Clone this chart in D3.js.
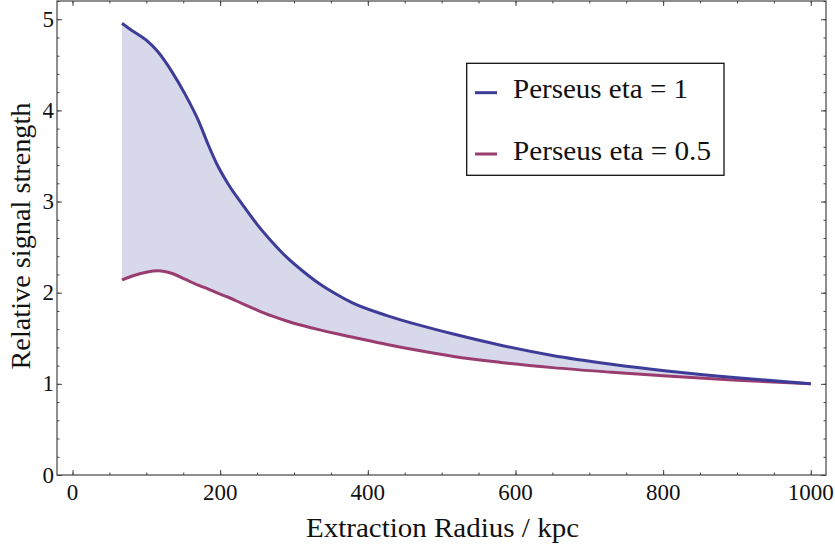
<!DOCTYPE html>
<html>
<head>
<meta charset="utf-8">
<script src="https://cdn.jsdelivr.net/npm/d3@7"></script>
<style>
  body { margin: 0; background: #fff; }
  svg text { font-family: "Liberation Serif", "DejaVu Serif", serif; fill: #111; }
</style>
</head>
<body>
<script>
// extraction radius in kpc
var radius = [67, 80, 100, 116, 135, 153, 171, 184, 195, 211, 230, 250, 270, 290, 313, 335, 358, 380, 426, 471, 516, 580, 650, 730, 805, 900, 1000];
// Perseus eta = 1
var eta1 = [4.955, 4.88, 4.77, 4.64, 4.42, 4.17, 3.88, 3.62, 3.42, 3.19, 2.97, 2.75, 2.56, 2.39, 2.23, 2.095, 1.98, 1.885, 1.749, 1.641, 1.546, 1.424, 1.312, 1.216, 1.142, 1.066, 1.00];
// Perseus eta = 0.5
var eta05 = [2.14, 2.18, 2.225, 2.24, 2.21, 2.145, 2.08, 2.04, 2.00, 1.95, 1.88, 1.81, 1.745, 1.69, 1.637, 1.592, 1.549, 1.511, 1.432, 1.362, 1.30, 1.235, 1.178, 1.127, 1.085, 1.04, 1.00];

var seriesNames = ["Perseus eta = 1", "Perseus eta = 0.5"];
var seriesColors = ["#3d3d99", "#993d70"];
var xTicks = [0, 200, 400, 600, 800, 1000];
var yTicks = [0, 1, 2, 3, 4, 5];

var width = 835, height = 549;
var frameL = 57, frameR = 826, frameT = 1, frameB = 475;

var svg = d3.select("body").append("svg")
    .attr("width", width)
    .attr("height", height);

var x = d3.scaleLinear().domain([-21, 1020.6]).range([frameL, frameR]);
var y = d3.scaleLinear().domain([0, 5.2]).range([frameB, frameT]);

var data = radius.map(function(r, i) { return {r: r, a: eta1[i], b: eta05[i]}; });

// band between the two curves
var area = d3.area()
    .curve(d3.curveMonotoneX)
    .x(function(d) { return x(d.r); })
    .y0(function(d) { return y(d.b); })
    .y1(function(d) { return y(d.a); });

svg.append("path")
    .datum(data)
    .attr("d", area)
    .attr("fill", "#d8d8eb");

var lineA = d3.line().curve(d3.curveMonotoneX)
    .x(function(d) { return x(d.r); })
    .y(function(d) { return y(d.a); });
var lineB = d3.line().curve(d3.curveMonotoneX)
    .x(function(d) { return x(d.r); })
    .y(function(d) { return y(d.b); });

svg.append("path").datum(data).attr("d", lineB)
    .attr("fill", "none").attr("stroke", seriesColors[1]).attr("stroke-width", 3);
svg.append("path").datum(data).attr("d", lineA)
    .attr("fill", "none").attr("stroke", seriesColors[0]).attr("stroke-width", 3);

// frame with inward ticks on all sides
var xMinor = d3.range(0, 1001, 50);
var yMinor = d3.range(0, 5.21, 0.2);

function axisSet(axis, ticks, size, pos) {
    var g = svg.append("g")
        .attr("transform", pos)
        .call(axis.tickValues(ticks).tickSize(size).tickSizeOuter(0).tickFormat(""));
    g.select(".domain").remove();
    g.selectAll(".tick line").attr("stroke", "#444").attr("stroke-width", 1);
    return g;
}

axisSet(d3.axisTop(x), xMinor, 2.5, "translate(0," + frameB + ")");
axisSet(d3.axisTop(x), xTicks, 5, "translate(0," + frameB + ")");
axisSet(d3.axisBottom(x), xMinor, 2.5, "translate(0," + frameT + ")");
axisSet(d3.axisBottom(x), xTicks, 5, "translate(0," + frameT + ")");
axisSet(d3.axisRight(y), yMinor, 2.5, "translate(" + frameL + ",0)");
axisSet(d3.axisRight(y), yTicks, 5, "translate(" + frameL + ",0)");
axisSet(d3.axisLeft(y), yMinor, 2.5, "translate(" + frameR + ",0)");
axisSet(d3.axisLeft(y), yTicks, 5, "translate(" + frameR + ",0)");

svg.append("rect")
    .attr("x", frameL).attr("y", frameT)
    .attr("width", frameR - frameL).attr("height", frameB - frameT)
    .attr("fill", "none").attr("stroke", "#444").attr("stroke-width", 1.2);

// tick labels
svg.selectAll(".xlab").data(xTicks).enter().append("text")
    .attr("class", "xlab")
    .attr("x", function(d) { return x(d); })
    .attr("y", 500)
    .attr("text-anchor", "middle")
    .style("font-size", "23px")
    .text(function(d) { return d; });

svg.selectAll(".ylab").data(yTicks).enter().append("text")
    .attr("class", "ylab")
    .attr("x", 54)
    .attr("y", function(d) { return y(d) + 7.5; })
    .attr("text-anchor", "end")
    .style("font-size", "23px")
    .text(function(d) { return d; });

// axis titles
svg.append("text")
    .attr("x", 442.5).attr("y", 537)
    .attr("text-anchor", "middle")
    .attr("textLength", 273).attr("lengthAdjust", "spacingAndGlyphs")
    .style("font-size", "28px")
    .text("Extraction Radius / kpc");

svg.append("text")
    .attr("transform", "translate(30,236) rotate(-90)")
    .attr("text-anchor", "middle")
    .attr("textLength", 267).attr("lengthAdjust", "spacingAndGlyphs")
    .style("font-size", "28px")
    .text("Relative signal strength");

// legend
var legend = svg.append("g");
legend.append("rect")
    .attr("x", 466.7).attr("y", 63.3)
    .attr("width", 257.3).attr("height", 112)
    .attr("fill", "#fff").attr("stroke", "#111").attr("stroke-width", 1.3);

var legY = [92.7, 154];
var legLen = [175, 198];
seriesNames.forEach(function(name, i) {
    legend.append("line")
        .attr("x1", 475).attr("x2", 497)
        .attr("y1", legY[i]).attr("y2", legY[i])
        .attr("stroke", seriesColors[i]).attr("stroke-width", 3);
    legend.append("text")
        .attr("x", 513).attr("y", legY[i] + 5.5 + i * 0.3)
        .attr("textLength", legLen[i]).attr("lengthAdjust", "spacingAndGlyphs")
        .style("font-size", "27px")
        .text(name);
});
</script>
</body>
</html>
